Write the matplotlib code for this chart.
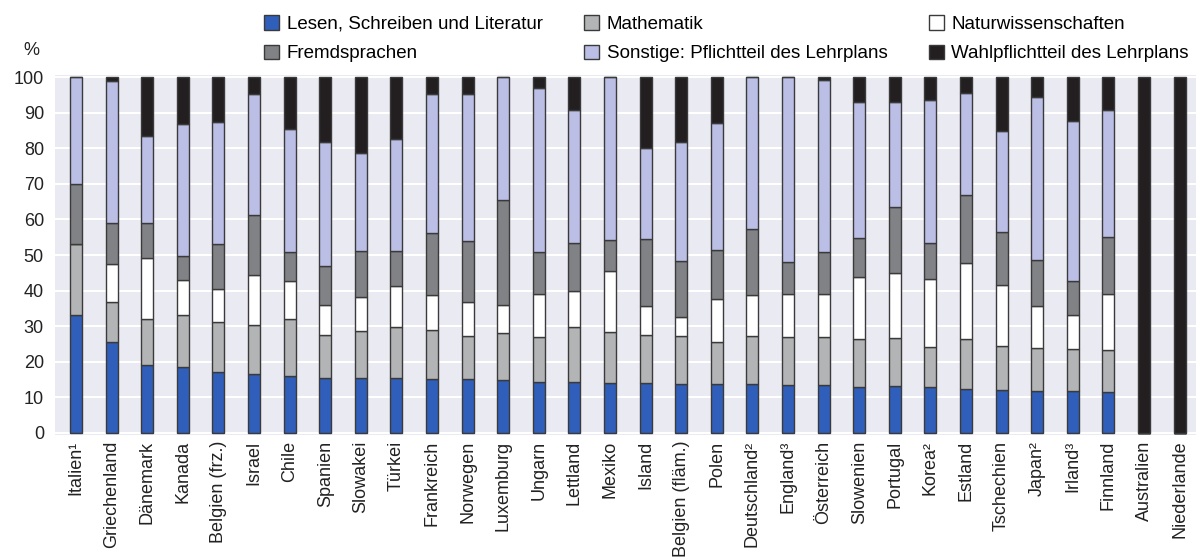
import matplotlib
matplotlib.use("Agg")
import matplotlib.pyplot as plt
import numpy as np

# Länder (Reihenfolge wie im Original)
laender = ["Italien¹", "Griechenland", "Dänemark", "Kanada", "Belgien (frz.)", "Israel",
           "Chile", "Spanien", "Slowakei", "Türkei", "Frankreich", "Norwegen", "Luxemburg",
           "Ungarn", "Lettland", "Mexiko", "Island", "Belgien (fläm.)", "Polen",
           "Deutschland²", "England³", "Österreich", "Slowenien", "Portugal", "Korea²",
           "Estland", "Tschechien", "Japan²", "Irland³", "Finnland", "Australien",
           "Niederlande"]

# Anteile in %
lesen = [33.1, 25.5, 19.1, 18.5, 17.0, 16.6, 15.9, 15.5, 15.4, 15.4, 15.3, 15.1, 14.8,
         14.3, 14.3, 14.0, 14.0, 13.9, 13.7, 13.7, 13.5, 13.5, 13.0, 13.2, 12.9, 12.5,
         12.1, 11.8, 11.8, 11.6, 0, 0]
mathe = [20.1, 11.4, 13.0, 14.6, 14.1, 13.7, 16.1, 12.1, 13.3, 14.4, 13.6, 12.1, 13.4,
         12.8, 15.6, 14.4, 13.5, 13.3, 12.0, 13.5, 13.5, 13.6, 13.4, 13.5, 11.3, 13.9,
         12.4, 12.0, 11.9, 11.8, 0, 0]
natur = [0, 10.6, 17.2, 9.9, 9.3, 14.2, 10.8, 8.3, 9.5, 11.4, 9.9, 9.5, 7.8,
         12.0, 9.9, 17.1, 8.2, 5.4, 11.9, 11.7, 12.0, 11.9, 17.4, 18.3, 19.1, 21.4,
         17.1, 11.9, 9.4, 15.7, 0, 0]
fremd = [16.7, 11.4, 9.7, 6.8, 12.6, 16.7, 8.0, 11.1, 13.0, 10.0, 17.4, 17.2, 29.4,
         11.7, 13.7, 8.7, 18.9, 15.8, 13.9, 18.5, 9.0, 11.9, 11.1, 18.4, 10.2, 19.1,
         14.9, 13.0, 9.7, 15.9, 0, 0]
sonst = [30.1, 39.9, 24.5, 37.1, 34.3, 34.1, 34.5, 34.7, 27.4, 31.4, 39.0, 41.5, 34.6,
         46.1, 37.4, 45.8, 25.6, 33.5, 35.6, 42.6, 52.0, 48.4, 38.0, 29.6, 40.2, 28.6,
         28.5, 45.6, 45.0, 35.8, 0, 0]
wahl = [0, 1.2, 16.5, 13.1, 12.7, 4.7, 14.7, 18.3, 21.4, 17.4, 4.8, 4.6, 0,
        3.1, 9.1, 0, 19.8, 18.1, 12.9, 0, 0, 0.7, 7.1, 7.0, 6.3, 4.5,
        15.0, 5.7, 12.2, 9.2, 100, 100]

reihen = [
    ("Lesen, Schreiben und Literatur", lesen, "#2f5fba"),
    ("Mathematik", mathe, "#b3b4b6"),
    ("Naturwissenschaften", natur, "#ffffff"),
    ("Fremdsprachen", fremd, "#808285"),
    ("Sonstige: Pflichtteil des Lehrplans", sonst, "#bbbfe6"),
    ("Wahlpflichtteil des Lehrplans", wahl, "#231f20"),
]

plt.rcParams['font.family'] = ['Liberation Sans', 'DejaVu Sans']

fig = plt.figure(figsize=(11.96, 5.6), dpi=100)
ax = fig.add_axes([0.046, 0.223, 0.954, 0.643])
ax.set_facecolor("#eaeaf2")

x = np.arange(len(laender))
unten = np.zeros(len(laender))
balken = {}
for name, werte, farbe in reihen:
    werte = np.array(werte)
    b = ax.bar(x, werte, width=0.34, bottom=unten, color=farbe,
               edgecolor="#3a3a3a", linewidth=1.0, label=name, zorder=3)
    balken[name] = b
    unten += werte

ax.set_xlim(-0.59, 31.46)
ax.set_ylim(-0.6, 100.6)
ax.set_yticks(range(0, 101, 10))
ax.yaxis.grid(True, color="white", linewidth=1.5, zorder=0)
ax.set_axisbelow(True)
for s in ax.spines.values():
    s.set_visible(False)
ax.tick_params(axis="both", length=0, labelsize=13, colors="#222222")
ax.tick_params(axis="y", pad=8)
ax.tick_params(axis="x", pad=4)
ax.set_xticks(x)
ax.set_xticklabels(laender, rotation=90)

fig.text(0.026, 0.91, "%", fontsize=13, color="#222222", ha="center", va="center")

# Legende: drei Spalten, spaltenweise befüllt
ordnung = ["Lesen, Schreiben und Literatur", "Fremdsprachen", "Mathematik",
           "Sonstige: Pflichtteil des Lehrplans", "Naturwissenschaften",
           "Wahlpflichtteil des Lehrplans"]
leg = fig.legend([balken[n] for n in ordnung], ordnung, ncol=3, frameon=False,
                 loc="upper left", bbox_to_anchor=(0.207, 1.003), fontsize=13.5,
                 handlelength=0.8, handleheight=0.8, handletextpad=0.4,
                 columnspacing=2.2, labelspacing=0.62)

fig.savefig("out.png", dpi=100)
